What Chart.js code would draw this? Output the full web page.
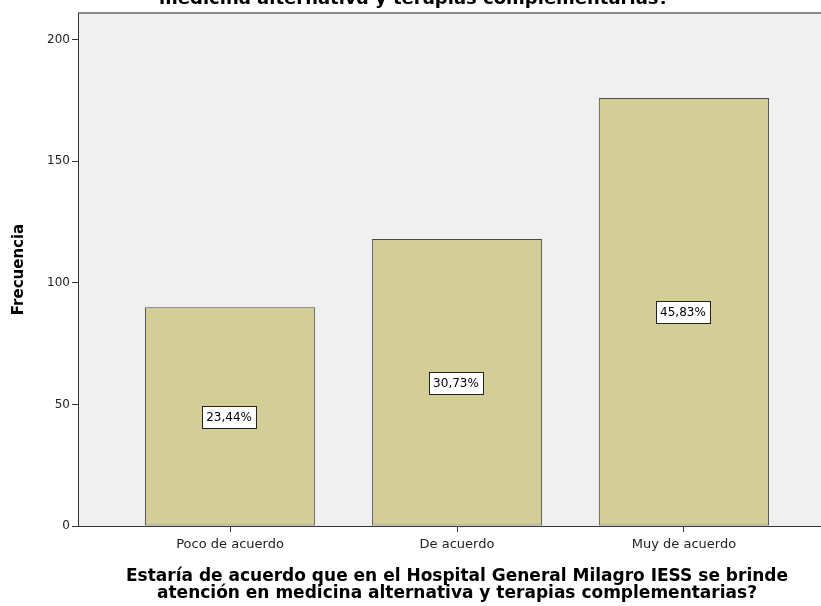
<!DOCTYPE html>
<html>
<head>
<meta charset="utf-8">
<script src="https://cdn.jsdelivr.net/npm/chart.js@4"></script>
<style>
  html, body { margin: 0; padding: 0; background: #ffffff; }
  #wrap { width: 821px; height: 606px; overflow: hidden; position: relative; }
  #chart { position: absolute; left: 0; top: 0; }
</style>
</head>
<body>
<div id="wrap"><canvas id="chart" width="850" height="606"></canvas></div>
<script>
// datos (n = 384)
const categories = ["Poco de acuerdo", "De acuerdo", "Muy de acuerdo"];
const frequencies = [90, 118, 176];
const yTicks = [0, 50, 100, 150, 200];
const yTitle = "Frecuencia";
const xTitle = [
  "Estaría de acuerdo que en el Hospital General Milagro IESS se brinde",
  "atención en medicina alternativa y terapias complementarias?",
];
const topTitle = "medicina alternativa y terapias complementarias?";

const FONT = "'DejaVu Sans', sans-serif";
const BAR_COLOR = "#d3ce98";
const PLOT_BG = "#f0f0f0";

const total = frequencies.reduce((a, b) => a + b, 0);

function formatPercent(value) {
  return (value / total * 100).toFixed(2).replace(".", ",") + "%";
}

// fondo gris del área y borde superior
const plotBackground = {
  id: "plotBackground",
  beforeDraw(chart) {
    const { ctx, chartArea: a } = chart;
    ctx.save();
    ctx.fillStyle = PLOT_BG;
    ctx.fillRect(a.left, a.top, a.right - a.left, a.bottom - a.top);
    ctx.strokeStyle = "#8a8a8a";
    ctx.lineWidth = 2;
    ctx.beginPath();
    ctx.moveTo(a.left, a.top);
    ctx.lineTo(chart.width, a.top);
    ctx.stroke();
    ctx.restore();
  },
};

// título recortado en la parte superior
const clippedTitle = {
  id: "clippedTitle",
  afterDraw(chart) {
    const { ctx } = chart;
    ctx.save();
    ctx.font = "bold 18px " + FONT;
    ctx.fillStyle = "#000";
    ctx.textAlign = "center";
    ctx.textBaseline = "alphabetic";
    ctx.fillText(topTitle, 414, 4);
    ctx.restore();
  },
};

// etiquetas de porcentaje en cajas blancas
const percentLabels = {
  id: "percentLabels",
  afterDatasetsDraw(chart) {
    const { ctx } = chart;
    const yScale = chart.scales.y;
    const meta = chart.getDatasetMeta(0);
    ctx.save();
    ctx.font = "12px " + FONT;
    ctx.textAlign = "center";
    ctx.textBaseline = "middle";
    meta.data.forEach((bar, i) => {
      const text = formatPercent(frequencies[i]);
      const cx = bar.x - 1;
      const cy = yScale.getPixelForValue(frequencies[i] / 2);
      const w = Math.round(ctx.measureText(text).width + 8);
      const h = 22;
      const x0 = Math.round(cx - w / 2) + 0.5;
      const y0 = Math.round(cy - h / 2) + 0.5;
      ctx.fillStyle = "#ffffff";
      ctx.fillRect(x0, y0, w, h);
      ctx.strokeStyle = "#222";
      ctx.lineWidth = 1;
      ctx.strokeRect(x0, y0, w, h);
      ctx.fillStyle = "#000";
      ctx.fillText(text, cx, cy + 1);
    });
    ctx.restore();
  },
};

new Chart(document.getElementById("chart"), {
  type: "bar",
  data: {
    datasets: [
      {
        data: frequencies.map((v, i) => ({ x: i + 1, y: v })),
        backgroundColor: BAR_COLOR,
        borderColor: "#4a4a4a",
        borderWidth: 1,
        borderSkipped: false,
        categoryPercentage: 1,
        barPercentage: 0.75,
      },
    ],
  },
  options: {
    responsive: false,
    animation: false,
    layout: { padding: { top: 13, right: 14, left: 0, bottom: 0 } },
    plugins: {
      legend: { display: false },
      tooltip: { enabled: false },
      title: { display: false },
    },
    scales: {
      x: {
        type: "linear",
        min: 0.33,
        max: 3.67,
        offset: false,
        afterBuildTicks: (scale) => {
          scale.ticks = categories.map((_, i) => ({ value: i + 1 }));
        },
        afterFit: (scale) => { scale.height = 80; },
        grid: { offset: false, drawOnChartArea: false, drawTicks: true, tickLength: 6, color: "#333" },
        border: { display: true, color: "#333", width: 1 },
        ticks: {
          color: "#222",
          font: { family: FONT, size: 13 },
          padding: 5,
          maxRotation: 0,
          callback: (value) => categories[value - 1] || "",
        },
        title: {
          display: true,
          text: xTitle,
          color: "#000",
          font: { family: FONT, size: 17, weight: "bold", lineHeight: 1.0 },
          padding: { top: 0, bottom: 4 },
        },
      },
      y: {
        min: 0,
        max: 211,
        afterBuildTicks: (scale) => {
          scale.ticks = yTicks.map((v) => ({ value: v }));
        },
        afterFit: (scale) => { scale.width = 78; },
        grid: { drawOnChartArea: false, drawTicks: true, tickLength: 6, color: "#333" },
        border: { display: true, color: "#333", width: 1 },
        ticks: {
          color: "#222",
          font: { family: FONT, size: 12 },
          padding: 2,
        },
        title: {
          display: true,
          text: yTitle,
          color: "#000",
          font: { family: FONT, size: 15, weight: "bold" },
          padding: { top: 10, bottom: 0 },
        },
      },
    },
  },
  plugins: [plotBackground, percentLabels, clippedTitle],
});
</script>
</body>
</html>
